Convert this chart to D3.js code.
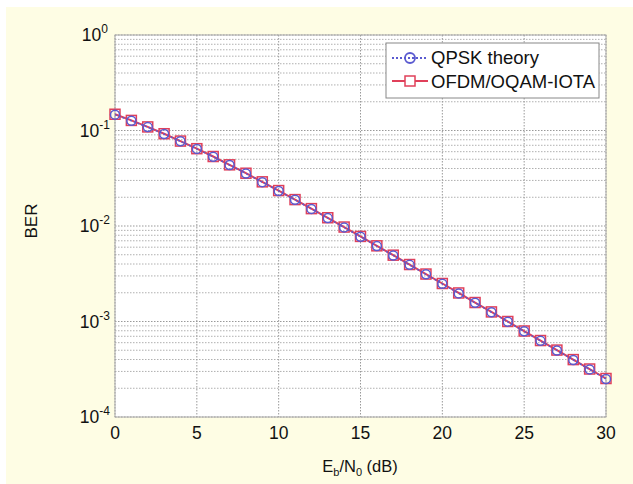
<!DOCTYPE html>
<html><head><meta charset="utf-8">
<script src="https://cdn.jsdelivr.net/npm/d3@7"></script>
<style>body{margin:0;background:#fff}svg{display:block}text{font-family:"Liberation Sans",Arial,sans-serif;fill:#111}</style>
</head><body><svg id="c" width="633" height="484"></svg>
<script>
const ebn0 = [0,1,2,3,4,5,6,7,8,9,10,11,12,13,14,15,16,17,18,19,20,21,22,23,24,25,26,27,28,29,30];
const qpskTheory = [0.1465,0.1267,0.1085,0.0919,0.0771,0.0642,0.0530,0.0435,0.0355,0.0288,0.0233,0.0188,0.0151,0.0121,0.00967,0.00772,0.00616,0.00492,0.00392,0.00312,0.00248,0.00197,0.00157,0.00125,0.000993,0.000789,0.000627,0.000498,0.000396,0.000315,0.000250];
const ofdmOqamIota = [0.1480,0.1275,0.1090,0.0925,0.0775,0.0645,0.0534,0.0437,0.0357,0.0290,0.0235,0.0189,0.0152,0.0122,0.00975,0.00778,0.00620,0.00495,0.00395,0.00314,0.00250,0.00199,0.00158,0.00126,0.00100,0.000795,0.000632,0.000502,0.000399,0.000318,0.000253];
const xTicks = [0,5,10,15,20,25,30];
const yTicks = [-4,-3,-2,-1,0];
const seriesNames = ["QPSK theory","OFDM/OQAM-IOTA"];

const svg = d3.select("#c");
svg.append("rect").attr("x",6).attr("y",7).attr("width",627).attr("height",477).attr("fill","#fefde4");
const L=115,T=35,R=606,B=417;
const x = d3.scaleLinear().domain([0,30]).range([L,R]);
const y = d3.scaleLog().domain([1e-4,1]).range([B,T]);
svg.append("rect").attr("x",L).attr("y",T).attr("width",R-L).attr("height",B-T).attr("fill","#fff");
const g = svg.append("g");
const minor=[];
for(let e=-4;e<0;e++) for(let m=2;m<=9;m++) minor.push(m*Math.pow(10,e));
g.selectAll(".ym").data(minor).enter().append("line")
 .attr("x1",L).attr("x2",R).attr("y1",d=>y(d)).attr("y2",d=>y(d))
 .attr("stroke","#b0b0b0").attr("stroke-width",1).attr("stroke-dasharray","1.5,1.5");
g.selectAll(".yM").data(yTicks).enter().append("line")
 .attr("x1",L).attr("x2",R).attr("y1",d=>y(Math.pow(10,d))).attr("y2",d=>y(Math.pow(10,d)))
 .attr("stroke","#999").attr("stroke-width",1).attr("stroke-dasharray","1.5,1.5");
g.selectAll(".xM").data(xTicks).enter().append("line")
 .attr("y1",T).attr("y2",B).attr("x1",d=>x(d)).attr("x2",d=>x(d))
 .attr("stroke","#999").attr("stroke-width",1).attr("stroke-dasharray","1.5,1.5");
svg.append("rect").attr("x",L).attr("y",T).attr("width",R-L).attr("height",B-T).attr("fill","none").attr("stroke","#aaa");

svg.selectAll(".xl").data(xTicks).enter().append("text")
 .attr("x",d=>x(d)).attr("y",439).attr("text-anchor","middle").attr("font-size",17.5).text(d=>d);
const yl = svg.selectAll(".yl").data(yTicks).enter().append("text")
 .attr("x",d=>d===0?108:110).attr("y",d=>y(Math.pow(10,d))+6).attr("text-anchor","end").attr("font-size",17.5);
yl.append("tspan").text("10");
yl.append("tspan").attr("dy",-8).attr("font-size",12).text(d=>d);
svg.append("text").attr("transform","translate(37,221) rotate(-90)").attr("text-anchor","middle").attr("font-size",17).text("BER");
const xt = svg.append("text").attr("x",360).attr("y",472).attr("text-anchor","middle").attr("font-size",16.5);
xt.append("tspan").text("E");
xt.append("tspan").attr("dy",4).attr("font-size",11).text("b");
xt.append("tspan").attr("dy",-4).text("/N");
xt.append("tspan").attr("dy",4).attr("font-size",11).text("0");
xt.append("tspan").attr("dy",-4).text(" (dB)");

const line = d3.line().x((d,i)=>x(ebn0[i])).y(d=>y(d));
const blue="#5a5ad0", red="#e0405a";
svg.append("path").datum(ofdmOqamIota).attr("d",line).attr("fill","none").attr("stroke",red).attr("stroke-width",2);
svg.selectAll(".sq").data(ofdmOqamIota).enter().append("rect")
 .attr("x",(d,i)=>x(ebn0[i])-5).attr("y",d=>y(d)-5).attr("width",10).attr("height",10)
 .attr("fill","none").attr("stroke",red).attr("stroke-width",1.5);
svg.append("path").datum(qpskTheory).attr("d",line).attr("fill","none").attr("stroke",blue).attr("stroke-width",1.5).attr("stroke-dasharray","2,2");
svg.selectAll(".ci").data(qpskTheory).enter().append("circle")
 .attr("cx",(d,i)=>x(ebn0[i])).attr("cy",d=>y(d)).attr("r",4.5)
 .attr("fill","none").attr("stroke",blue).attr("stroke-width",1.5);

const lg = svg.append("g");
lg.append("rect").attr("x",386).attr("y",43).attr("width",213).attr("height",55).attr("fill","#fff").attr("stroke","#888");
lg.append("line").attr("x1",392).attr("x2",428).attr("y1",58).attr("y2",58).attr("stroke",blue).attr("stroke-width",2).attr("stroke-dasharray","2,2");
lg.append("circle").attr("cx",410).attr("cy",58).attr("r",5).attr("fill","none").attr("stroke",blue).attr("stroke-width",1.8);
lg.append("line").attr("x1",392).attr("x2",428).attr("y1",81).attr("y2",81).attr("stroke",red).attr("stroke-width",2);
lg.append("rect").attr("x",405).attr("y",76).attr("width",10).attr("height",10).attr("fill","#fff").attr("stroke",red).attr("stroke-width",1.5);
lg.append("text").attr("x",431).attr("y",64).attr("font-size",18.5).text(seriesNames[0]);
lg.append("text").attr("x",431).attr("y",88).attr("font-size",18.5).text(seriesNames[1]);
</script></body></html>
